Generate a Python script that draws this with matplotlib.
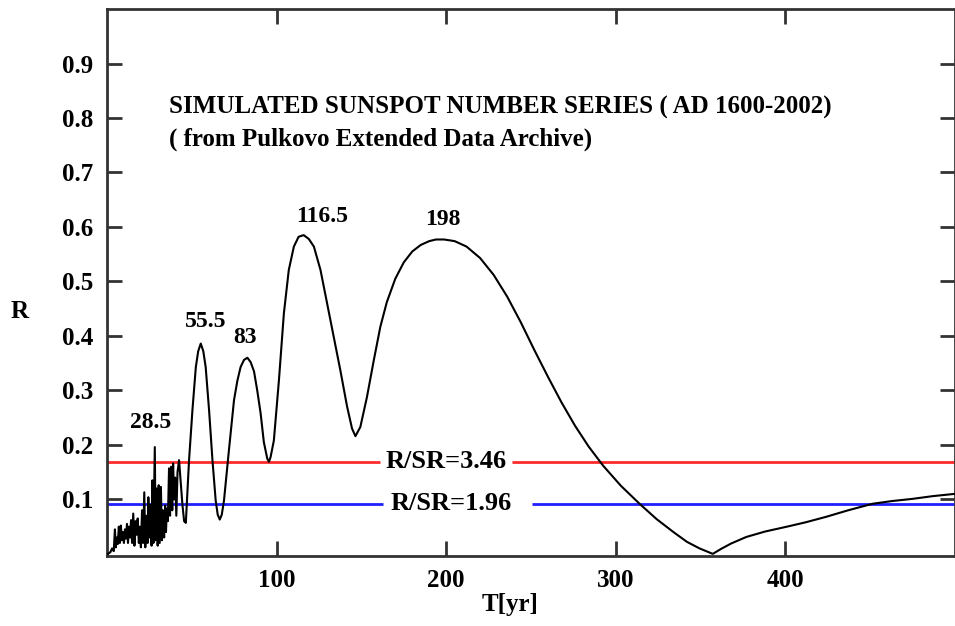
import matplotlib
matplotlib.use("Agg")
import matplotlib.pyplot as plt
import numpy as np

plt.rcParams['font.family'] = ['Liberation Serif', 'DejaVu Serif']
plt.rcParams['font.weight'] = 'bold'

# fast, noisy part of the spectrum (periods below ~47 yr), read peak/trough by peak/trough
noise_T = [0.5, 2, 3, 4, 4.7, 5.2, 5.8, 6.4, 7, 7.6, 8.2, 8.8, 9.4, 10, 10.6, 11.2,
           11.8, 12.4, 13, 13.6, 14.2, 14.8, 15.5, 16.2, 16.8, 17.5, 18.1, 18.8, 19.4,
           20, 20.7, 21.3, 22, 22.6, 23.3, 24, 24.4, 25, 25.6, 26.3, 26.8, 27.4, 28.2,
           28.7, 29.3, 29.9, 30.5, 31.1, 31.8, 32.4, 33, 33.7, 34.3, 34.8, 35.3, 35.9,
           36.6, 37.2, 37.8, 38.5, 39, 39.6, 40.2, 40.9, 41.6, 42.5, 43.5, 44.5, 45.5]
noise_R = [0.0, 0.003, 0.01, 0.005, 0.045, 0.012, 0.03, 0.018, 0.05, 0.02, 0.052, 0.025,
           0.04, 0.02, 0.045, 0.028, 0.055, 0.02, 0.05, 0.03, 0.062, 0.02, 0.074, 0.015,
           0.06, 0.035, 0.065, 0.02, 0.05, 0.012, 0.08, 0.02, 0.113, 0.012, 0.07, 0.02,
           0.104, 0.03, 0.09, 0.015, 0.135, 0.02, 0.196, 0.025, 0.12, 0.015, 0.126, 0.02,
           0.123, 0.025, 0.08, 0.03, 0.089, 0.04, 0.083, 0.06, 0.157, 0.07, 0.16, 0.08,
           0.166, 0.1, 0.14, 0.07, 0.15, 0.172, 0.13, 0.09, 0.06]

# smooth part
smooth_T = [46.5, 48.4, 50.4, 52.4, 53.8, 55.3, 56.8, 58.2, 60.2, 62.2, 64.1, 65.3, 66.5,
            67.7, 69, 71.9, 74.9, 76.9, 78.8, 80.8, 82.8, 84.7, 86.7, 88.6, 90.6, 92.5,
            93.5, 94.5, 95.5, 96.5, 98.4, 101.4, 104.3, 107.2, 110.2, 113, 116, 119, 122,
            125.9, 129.8, 133.7, 137.6, 141.6, 144.5, 146.5, 149.4, 153.3, 157.3, 161.2,
            165, 170, 175, 180, 185, 190, 194, 198.8, 205, 212, 220, 228, 236, 244, 252,
            260, 268, 276, 284, 292.5, 303, 314, 324, 334, 342, 349.4, 354,
            357.2, 362, 368, 376.9, 388, 401, 412, 424, 437, 451.4, 463, 475, 487, 499.4]
smooth_R = [0.057, 0.172, 0.264, 0.343, 0.372, 0.386, 0.372, 0.343, 0.264, 0.172, 0.098,
            0.072, 0.063, 0.072, 0.098, 0.19, 0.282, 0.318, 0.343, 0.356, 0.36, 0.352,
            0.335, 0.3, 0.258, 0.205, 0.19, 0.175, 0.169, 0.178, 0.208, 0.319, 0.441,
            0.521, 0.564, 0.582, 0.585, 0.578, 0.564, 0.521, 0.46, 0.398, 0.337, 0.27,
            0.23, 0.216, 0.233, 0.288, 0.355, 0.417, 0.462, 0.505, 0.535, 0.555, 0.567,
            0.574, 0.577, 0.577, 0.574, 0.564, 0.543, 0.512, 0.472, 0.425, 0.374, 0.325,
            0.278, 0.235, 0.197, 0.162, 0.125, 0.092, 0.064, 0.04, 0.022, 0.01, 0.004,
            0.0, 0.009, 0.019, 0.031, 0.041, 0.05, 0.058, 0.068, 0.08, 0.092, 0.097,
            0.101, 0.106, 0.11]

peak_labels = ['28.5', '55.5', '83', '116.5', '198']
peak_label_x = [25.9, 58.2, 81.2, 127, 198.2]
peak_label_y = [0.241, 0.427, 0.398, 0.62, 0.613]

level_R = [0.169, 0.092]
level_names = ['R/SR=3.46', 'R/SR=1.96']
level_colors = ['#ff2a2a', '#1f1fff']
level_label_x = [200, 203]
level_gap = [(161.2, 238.6), (163, 250.4)]

T = noise_T + smooth_T
R = noise_R + smooth_R

fig = plt.figure(figsize=(9.55, 6.26), dpi=100)
ax = fig.add_axes([0.112, 0.1126, 0.888, 0.873])

for lev, name, col, lx, gap in zip(level_R, level_names, level_colors,
                                   level_label_x, level_gap):
    ax.hlines(lev, 0, gap[0], color=col, lw=2, zorder=1)
    ax.hlines(lev, gap[1], 500, color=col, lw=2, zorder=1)
    ax.text(lx, lev, name, fontsize=19, ha='center', va='center', zorder=2)

ax.plot(T, R, color='black', lw=1.5, zorder=3)

for lab, lx, ly in zip(peak_labels, peak_label_x, peak_label_y):
    ax.text(lx, ly, lab, fontsize=17, ha='center', va='center')

ax.text(36.5, 0.82, 'SIMULATED SUNSPOT NUMBER SERIES ( AD 1600-2002)', fontsize=18,
        va='center')
ax.text(36.5, 0.76, '( from Pulkovo Extended Data Archive)', fontsize=18, va='center')

ax.set_xlim(0, 500)
ax.set_ylim(-0.003, 1.0)
ax.set_xticks([100, 200, 300, 400])
ax.set_yticks([0.1, 0.2, 0.3, 0.4, 0.5, 0.6, 0.7, 0.8, 0.9])
ax.set_yticklabels(['0.1', '0.2', '0.3', '0.4', '0.5', '0.6', '0.7', '0.8', '0.9'])
ax.tick_params(direction='in', length=11, width=2, color='#333333', labelsize=18,
               top=True, right=True, pad=10)
for s in ax.spines.values():
    s.set_linewidth(2)
    s.set_color('#333333')

fig.text(20 / 955, 1 - 311 / 626, 'R', fontsize=18, ha='center', va='center')
fig.text(510 / 955, 1 - 605 / 626, 'T[yr]', fontsize=18, ha='center', va='center')

fig.savefig('out.png', dpi=100)
